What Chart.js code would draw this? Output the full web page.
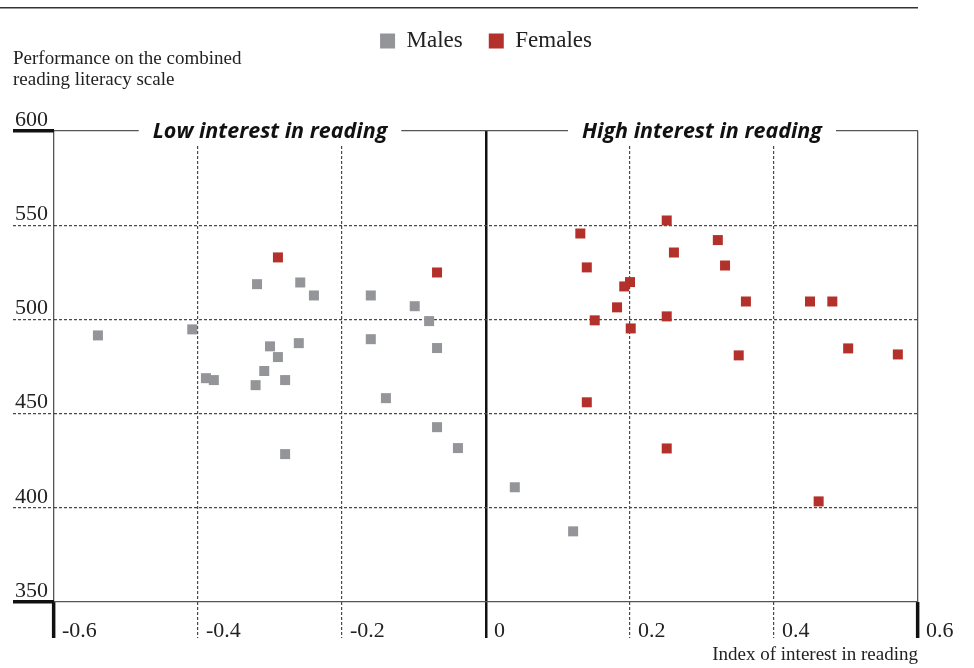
<!DOCTYPE html>
<html>
<head>
<meta charset="utf-8">
<script src="https://cdn.jsdelivr.net/npm/chart.js@4.4.0/dist/chart.umd.min.js"></script>
<style>
html, body { margin: 0; padding: 0; background: #fff; }
</style>
</head>
<body>
<canvas id="grafico" width="974" height="668"></canvas>
<script>
// datos
const maleX = [-0.539, -0.408, -0.318, -0.258, -0.239, -0.160, -0.099, -0.079, -0.160, -0.068, -0.300, -0.260,
  -0.289, -0.308, -0.389, -0.378, -0.320, -0.279, -0.139, -0.068, -0.039, -0.279, 0.040, 0.121];
const maleY = [491.5, 494.7, 518.7, 519.6, 512.7, 512.7, 507.0, 499.1, 489.5, 484.8, 485.7, 487.4,
  480.0, 472.6, 468.8, 467.8, 465.1, 467.8, 458.2, 442.8, 431.7, 428.5, 410.9, 387.5];
const femaleX = [-0.289, -0.068, 0.251, 0.131, 0.322, 0.261, 0.140, 0.332, 0.200, 0.192, 0.182, 0.361,
  0.450, 0.481, 0.251, 0.151, 0.201, 0.351, 0.503, 0.572, 0.140, 0.251, 0.462];
const femaleY = [532.9, 524.9, 552.5, 545.6, 542.1, 535.5, 527.6, 528.6, 519.8, 517.5, 506.4, 509.5,
  509.5, 509.5, 501.6, 499.5, 495.2, 480.9, 484.6, 481.4, 456.0, 431.5, 403.4];

const xTicks = ['-0.6', '-0.4', '-0.2', '0', '0.2', '0.4', '0.6'];
const yTicks = ['350', '400', '450', '500', '550', '600'];
const bandLabels = ['Low interest in reading', 'High interest in reading'];
const bandCenters = [-0.3, 0.3];

const gris = '#939598';
const rojo = '#b3312a';
const serif = "'Liberation Serif', 'Times New Roman', serif";
const punteado = [3, 2];
const colorPunteado = '#4a4a4a';

function puntos(xs, ys) {
  return xs.map((x, i) => ({ x: x, y: ys[i] }));
}
function bordeX(v) { return Math.abs(Math.abs(v) - 0.6) < 1e-6; }
function ceroX(v) { return Math.abs(v) < 1e-6; }
function bordeY(v) { return v === 350 || v === 600; }

const extras = {
  id: 'extras',
  afterDraw(chart) {
    const c = chart.ctx;
    const area = chart.chartArea;
    const xs = chart.scales.x;
    c.save();
    // linea de cabecera
    c.fillStyle = '#333';
    c.fillRect(0, 7, area.right, 1.5);
    // etiquetas sobre el borde superior
    c.font = 'italic bold 21.5px "Open Sans", sans-serif';
    c.textAlign = 'center';
    c.textBaseline = 'middle';
    bandLabels.forEach((t, i) => {
      const cx = xs.getPixelForValue(bandCenters[i]);
      const w = c.measureText(t).width;
      c.fillStyle = '#fff';
      c.fillRect(cx - w / 2 - 14, area.top - 12, w + 28, 27);
      c.fillStyle = '#111';
      c.fillText(t, cx, area.top + 1);
    });
    c.restore();
  }
};

const ctx = document.getElementById('grafico').getContext('2d');

const myChart = new Chart(ctx, {
  type: 'scatter',
  data: {
    datasets: [{
      label: 'Males',
      data: puntos(maleX, maleY),
      backgroundColor: gris,
      borderColor: gris,
      borderWidth: 0,
      pointStyle: 'rect',
      pointRadius: 7.07,
      pointHoverRadius: 7.07
    }, {
      label: 'Females',
      data: puntos(femaleX, femaleY),
      backgroundColor: rojo,
      borderColor: rojo,
      borderWidth: 0,
      pointStyle: 'rect',
      pointRadius: 7.07,
      pointHoverRadius: 7.07
    }]
  },
  options: {
    responsive: false,
    animation: false,
    events: [],
    layout: { padding: { top: 3.5, left: 13, right: 56, bottom: 0 } },
    plugins: {
      tooltip: { enabled: false },
      legend: {
        position: 'top',
        fullSize: false,
        weight: 3000,
        labels: {
          boxWidth: 15,
          boxHeight: 15,
          padding: 26,
          color: '#222',
          font: { family: serif, size: 23 }
        }
      },
      title: {
        display: true,
        position: 'top',
        align: 'start',
        weight: 2000,
        text: ['Performance on the combined', 'reading literacy scale'],
        color: '#222',
        font: { family: serif, size: 19, weight: 'normal', lineHeight: '21px' },
        padding: { top: -14.4, bottom: 40.9 }
      }
    },
    scales: {
      x: {
        type: 'linear',
        min: -0.6,
        max: 0.6,
        afterFit(scale) {
          scale.height = 66;
          scale.paddingLeft = 0;
          scale.paddingRight = 0;
        },
        border: {
          display: false,
          dash: c => (bordeX(c.tick.value) || ceroX(c.tick.value)) ? [] : punteado
        },
        grid: {
          color: c => bordeX(c.tick.value) ? '#555' : (ceroX(c.tick.value) ? '#111' : colorPunteado),
          lineWidth: c => bordeX(c.tick.value) ? 1.3 : (ceroX(c.tick.value) ? 2.5 : 1.2),
          tickLength: 36,
          tickColor: c => (bordeX(c.tick.value) || ceroX(c.tick.value)) ? '#111' : colorPunteado,
          tickWidth: c => bordeX(c.tick.value) ? 3.5 : (ceroX(c.tick.value) ? 2.5 : 1.2),
          tickBorderDash: c => (bordeX(c.tick.value) || ceroX(c.tick.value)) ? [] : punteado
        },
        ticks: {
          stepSize: 0.2,
          autoSkip: false,
          maxRotation: 0,
          align: 'start',
          labelOffset: 8,
          padding: -20,
          color: '#222',
          font: { family: serif, size: 22 },
          callback: (v, i) => xTicks[i]
        },
        title: {
          display: true,
          text: 'Index of interest in reading',
          align: 'end',
          color: '#222',
          font: { family: serif, size: 19 },
          padding: { top: 0, bottom: 2 }
        }
      },
      y: {
        type: 'linear',
        min: 350,
        max: 600,
        afterFit(scale) {
          scale.width = 41;
          scale.paddingTop = 0;
          scale.paddingBottom = 0;
        },
        border: {
          display: false,
          dash: c => bordeY(c.tick.value) ? [] : punteado
        },
        grid: {
          color: c => bordeY(c.tick.value) ? '#555' : colorPunteado,
          lineWidth: c => bordeY(c.tick.value) ? 1.3 : 1.2,
          tickLength: 41,
          tickColor: c => bordeY(c.tick.value) ? '#111' : colorPunteado,
          tickWidth: c => bordeY(c.tick.value) ? 3.5 : 1.2,
          tickBorderDash: c => bordeY(c.tick.value) ? [] : punteado
        },
        ticks: {
          stepSize: 50,
          autoSkip: false,
          padding: -35,
          labelOffset: -11,
          color: '#222',
          font: { family: serif, size: 22 },
          callback: (v, i) => yTicks[i]
        }
      }
    }
  },
  plugins: [extras]
});
</script>
</body>
</html>
